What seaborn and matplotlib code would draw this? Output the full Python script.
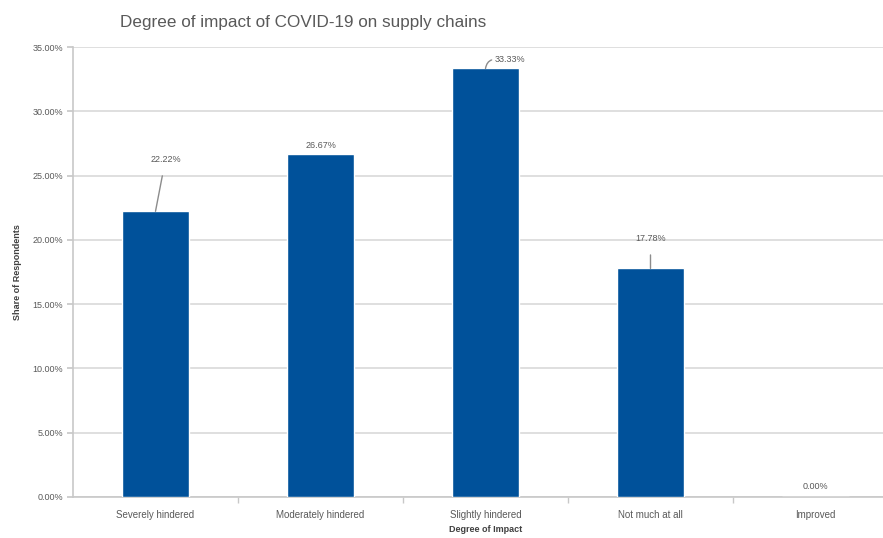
import matplotlib
matplotlib.use("Agg")
import matplotlib.pyplot as plt
import seaborn as sns
import pandas as pd
from matplotlib.ticker import FuncFormatter, MultipleLocator, FixedLocator

categories = ["Severely hindered", "Moderately hindered", "Slightly hindered",
              "Not much at all", "Improved"]
shares = [22.22, 26.67, 33.33, 17.78, 0.00]

df = pd.DataFrame({"impact": categories, "share": shares})

sns.set_theme(style="white")
plt.rcParams["font.family"] = ["Liberation Sans", "DejaVu Sans"]

fig = plt.figure(figsize=(8.83, 5.38), dpi=100)
ax = fig.add_axes([73 / 883, (538 - 497) / 538, (898 - 73) / 883, (497 - 47) / 538])

sns.barplot(data=df, x="impact", y="share", color="#00519A", width=0.41,
            saturation=1, ax=ax, zorder=3)

ax.set_xlim(-0.5, len(categories) - 0.5)
ax.set_ylim(0, 35)
ax.yaxis.set_major_locator(MultipleLocator(5))
ax.yaxis.set_major_formatter(FuncFormatter(lambda v, p: f"{v:.2f}%"))
ax.grid(axis="y", color="#d9d9d9", linewidth=1.2, zorder=0)
ax.set_axisbelow(True)

for side in ["top", "right"]:
    ax.spines[side].set_visible(False)
ax.spines["left"].set_color("#c8c8c8")
ax.spines["bottom"].set_color("#c8c8c8")
ax.spines["left"].set_linewidth(1.2)
ax.spines["bottom"].set_linewidth(1.2)

ax.tick_params(axis="y", labelsize=6.5, labelcolor="#595959", length=4,
               color="#c8c8c8", left=True, pad=3)
ax.tick_params(axis="x", labelsize=7, labelcolor="#595959", length=0, pad=9)
ax.xaxis.set_minor_locator(FixedLocator([i + 0.5 for i in range(len(categories) - 1)]))
ax.tick_params(axis="x", which="minor", bottom=True, length=4, color="#c8c8c8")

ax.set_xlabel("Degree of Impact", fontsize=6.5, fontweight="bold", color="#404040",
              labelpad=4)
ax.set_ylabel("Share of Respondents", fontsize=6.5, fontweight="bold", color="#404040",
              labelpad=8)

fig.text(120 / 883, 1 - 22 / 538, "Degree of impact of COVID-19 on supply chains",
         fontsize=12.3, color="#595959", va="center", ha="left")

# Data labels; some are offset with leader lines to the bar tops
label_offsets = [(0.06, 4.0), (0.0, 0.65), (0.15, 0.7), (0.0, 2.3), (0.0, 0.8)]
leader = [True, False, True, True, False]
for i, (v, (dx, dy), lead) in enumerate(zip(shares, label_offsets, leader)):
    text = f"{v:.2f}%"
    tx, ty = i + dx, v + dy
    if lead:
        if i == 2:
            ax.annotate(text, xy=(i, v), xytext=(tx, ty), fontsize=6.5, color="#595959",
                        ha="center", va="center",
                        arrowprops=dict(arrowstyle="-", color="#8c8c8c", lw=1.0,
                                        shrinkA=0, shrinkB=0,
                                        relpos=(0.0, 0.5),
                                        connectionstyle="angle3,angleA=0,angleB=80"))
        else:
            ax.annotate(text, xy=(i, v), xytext=(tx, ty), fontsize=6.5, color="#595959",
                        ha="center", va="center",
                        arrowprops=dict(arrowstyle="-", color="#8c8c8c", lw=1.0,
                                        shrinkA=6, shrinkB=0))
    else:
        ax.text(tx, ty, text, fontsize=6.5, color="#595959", ha="center", va="center")

fig.savefig("out.png", dpi=100)
